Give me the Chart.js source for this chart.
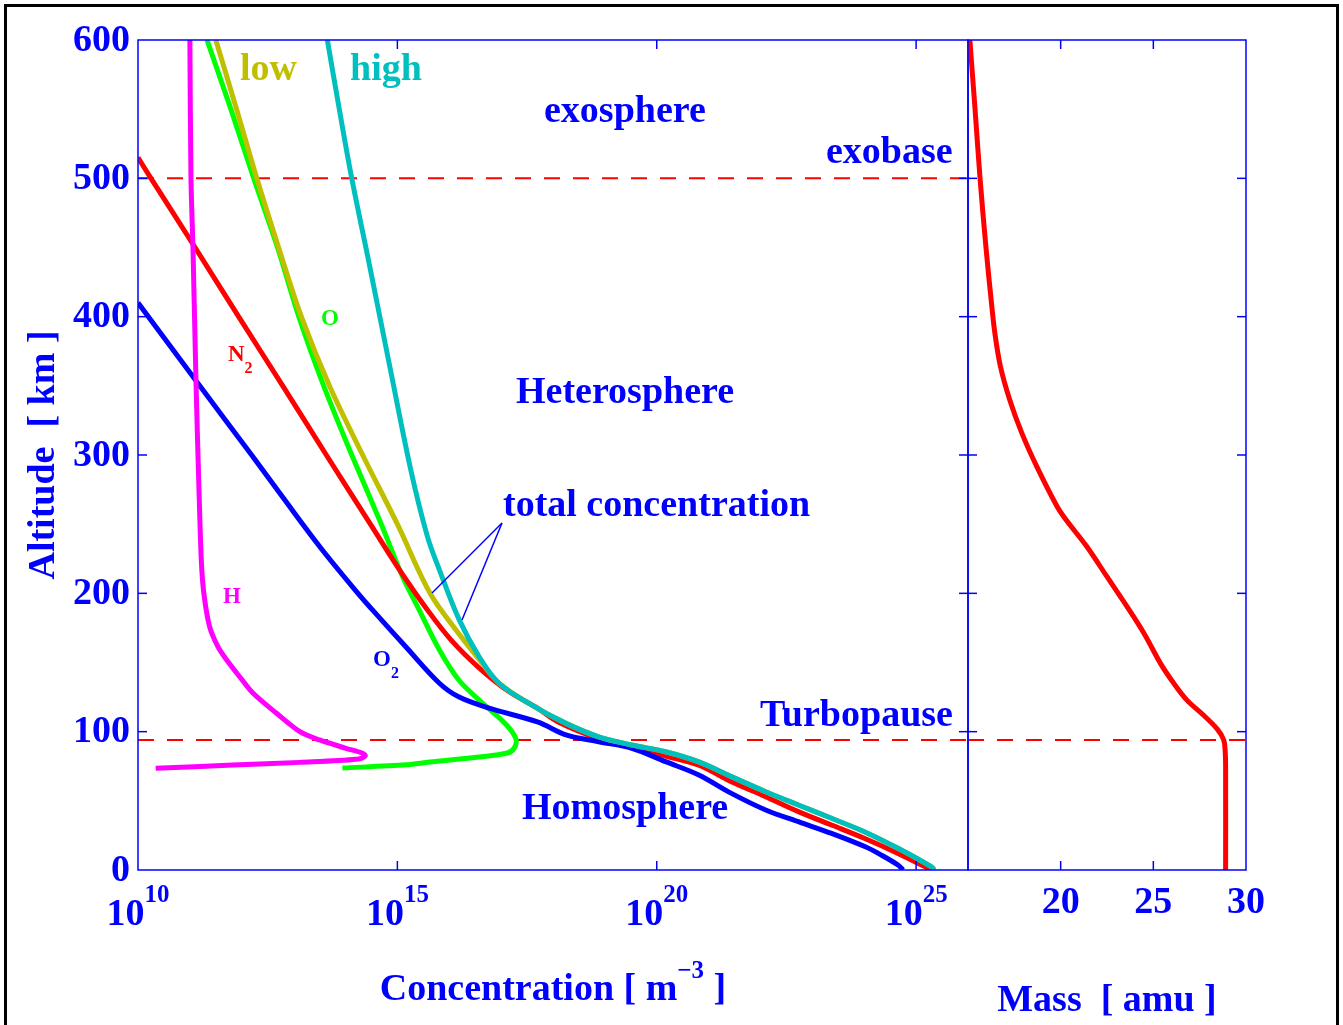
<!DOCTYPE html>
<html>
<head>
<meta charset="utf-8">
<script src="https://cdn.jsdelivr.net/npm/chart.js@4.4.0/dist/chart.umd.min.js"></script>
<style>
  body { margin: 0; background: #fff; }
  #wrap { position: relative; width: 1343px; height: 1025px; overflow: hidden; background: #fff; }
  #wrap canvas { position: absolute; left: 0; top: 0; }
  #frame { position: absolute; left: 4px; top: 4px; width: 1329px; height: 1040px; border: 3px solid #000; }
</style>
</head>
<body>
<div id="wrap">
  <div id="frame"></div>
  <canvas id="conc" width="1343" height="1025"></canvas>
  <canvas id="mass" width="1343" height="1025"></canvas>
</div>
<script>
// altitude [km] and number density [m^-3]
const altN2 = [515, 500, 450, 400, 350, 300, 250, 217, 188, 166, 146, 129, 117, 107, 95, 89, 82.4, 75.9, 63.8, 53, 42.2, 32.5, 22.9, 12, 1.2, 0];
const concN2 = [1.0e10, 1.78e10, 1.26e11, 8.71e11, 6.17e12, 4.27e13, 3.02e14, 1.1e15, 3.8e15, 1.1e16, 3.8e16, 1.41e17, 5.01e17, 1.26e18, 7.59e18, 3.31e19, 1.48e20, 6.31e20, 2.75e21, 1.26e22, 5.37e22, 2.34e23, 1.0e24, 4.47e24, 1.7e25, 1.91e25];

const altO2 = [410, 350, 300, 270, 233, 200, 188, 161, 135, 125, 117, 107, 97.6, 92.7, 88, 78.3, 68.7, 55.4, 43.4, 34.9, 26.5, 16.8, 10.8, 3.6, 0];
const concO2 = [1.0e10, 1.55e11, 1.55e12, 6.03e12, 3.31e13, 1.74e14, 3.31e14, 1.48e15, 6.46e15, 1.55e16, 5.89e16, 5.01e17, 1.78e18, 7.59e18, 3.31e19, 1.48e20, 6.46e20, 2.75e21, 1.26e22, 5.37e22, 2.34e23, 1.05e24, 2.14e24, 4.47e24, 5.62e24];

const altO = [600, 550, 500, 450, 400, 350, 300, 250, 212, 188, 159, 137, 121, 108, 101, 94, 88, 84.6, 81.7, 78, 76, 73.7];
const concO = [2.14e11, 6.17e11, 1.7e12, 4.9e12, 1.26e13, 3.8e13, 1.32e14, 4.9e14, 1.26e15, 2.63e15, 6.46e15, 1.55e16, 4.27e16, 1.05e17, 1.55e17, 1.95e17, 1.78e17, 1.32e17, 3.8e16, 4.17e15, 1.48e15, 8.71e13];

const altH = [600, 500, 448, 349, 282, 224, 200, 176, 161.5, 151.8, 139.7, 127.7, 113.3, 100, 94, 88, 84.4, 82.4, 80, 77.8, 75.9, 73.5];
const concH = [1.0e11, 1.05e11, 1.15e11, 1.32e11, 1.48e11, 1.66e11, 1.86e11, 2.4e11, 3.47e11, 5.13e11, 9.12e11, 1.66e12, 4.68e12, 1.32e13, 3.16e13, 1.02e14, 2.14e14, 2.4e14, 1.62e14, 1.32e13, 6.76e11, 2.19e10];

// total concentration, low and high solar activity
const altLow = [600, 550, 500, 450, 400, 350, 300, 250, 200, 173.5, 152, 135, 119, 106, 96.3, 90.4, 85.5, 78.3, 67.5, 56.6, 47, 37.4, 27.7, 15.7, 2.4, 0];
const concLow = [3.16e11, 7.94e11, 1.95e12, 5.13e12, 1.41e13, 4.9e13, 2.14e14, 1.0e15, 4.27e15, 1.35e16, 3.8e16, 9.12e16, 3.98e17, 1.78e18, 7.59e18, 3.31e19, 1.48e20, 6.31e20, 2.75e21, 1.26e22, 5.37e22, 2.34e23, 1.0e24, 4.47e24, 1.95e25, 2.24e25];

const altHigh = [600, 550, 500, 434, 361, 289, 241, 217, 181, 154, 135, 119, 106, 96.3, 90.4, 85.5, 78.3, 67.5, 56.6, 47, 37.4, 27.7, 15.7, 2.4, 0];
const concHigh = [4.47e13, 7.59e13, 1.32e14, 3.02e14, 7.41e14, 1.82e15, 3.8e15, 6.46e15, 1.55e16, 3.8e16, 9.12e16, 3.98e17, 1.78e18, 7.59e18, 3.31e19, 1.48e20, 6.31e20, 2.75e21, 1.26e22, 5.37e22, 2.34e23, 1.0e24, 4.47e24, 1.95e25, 2.24e25];

// mean molecular mass [amu]
const altMass = [600, 550, 500, 450, 412, 388, 364, 340, 316, 292, 263, 253, 234, 212, 190, 171, 149, 135, 123, 112, 102, 94, 85, 75, 0];
const meanMass = [15.1, 15.38, 15.65, 15.97, 16.25, 16.45, 16.75, 17.25, 17.9, 18.7, 19.8, 20.3, 21.4, 22.5, 23.6, 24.5, 25.4, 26.1, 26.8, 27.7, 28.44, 28.8, 28.88, 28.9, 28.9];

const exobaseAlt = 500;
const turbopauseAlt = 94;

// axes
const altTicks = [0, 100, 200, 300, 400, 500, 600];
const concTicks = [1e10, 1e15, 1e20, 1e25];
const concTickExp = ['10', '15', '20', '25'];
const massTicks = [20, 25, 30];

const BLUE = '#0000ff';
const SERIF = '"Liberation Serif", "Times New Roman", serif';
const font = size => 'bold ' + size + 'px ' + SERIF;

const pts = (xs, ys) => xs.map((v, i) => ({x: v, y: ys[i]}));

function curve(data, color, tension) {
    return {data: data, showLine: true, borderColor: color, backgroundColor: color,
        borderWidth: 5, tension: tension, pointRadius: 0, borderJoinStyle: 'round'};
}
function dashed(data) {
    return {data: data, showLine: true, borderColor: '#ff0000', borderWidth: 2,
        borderDash: [16, 13], tension: 0, pointRadius: 0};
}

// text made of pieces of different size (superscripts, subscripts)
function drawRich(ctx, parts, x, baseline, align) {
    let total = 0;
    parts.forEach(p => { ctx.font = font(p.size); p.w = ctx.measureText(p.t).width; total += p.w; });
    let x0 = align === 'left' ? x : x - total / 2;
    ctx.textAlign = 'left';
    ctx.textBaseline = 'alphabetic';
    parts.forEach(p => {
        ctx.font = font(p.size);
        ctx.fillText(p.t, x0, baseline + (p.dy || 0));
        x0 += p.w;
    });
}

function seg(ctx, x1, y1, x2, y2) {
    ctx.beginPath(); ctx.moveTo(x1, y1); ctx.lineTo(x2, y2); ctx.stroke();
}

function drawBox(chart, xTicks) {
    const {ctx, chartArea: a, scales: {x, y}} = chart;
    ctx.strokeStyle = BLUE;
    ctx.lineWidth = 1.5;
    ctx.strokeRect(a.left, a.top, a.right - a.left, a.bottom - a.top);
    altTicks.slice(1, -1).forEach(v => {
        const py = y.getPixelForValue(v);
        seg(ctx, a.left, py, a.left + 9, py);
        seg(ctx, a.right - 9, py, a.right, py);
    });
    xTicks.forEach(v => {
        const px = x.getPixelForValue(v);
        if (px <= a.left + 1 || px >= a.right - 1) return;
        seg(ctx, px, a.bottom, px, a.bottom - 9);
        seg(ctx, px, a.top, px, a.top + 9);
    });
}

const annotations = [
    {parts: [{t: 'low', size: 38}], color: '#bfbf00', x: 240, y: 80},
    {parts: [{t: 'high', size: 38}], color: '#00bfbf', x: 350, y: 80},
    {parts: [{t: 'exosphere', size: 38}], color: BLUE, x: 544, y: 122},
    {parts: [{t: 'exobase', size: 38}], color: BLUE, x: 826, y: 163},
    {parts: [{t: 'Heterosphere', size: 38}], color: BLUE, x: 516, y: 403},
    {parts: [{t: 'total concentration', size: 38}], color: BLUE, x: 503, y: 516},
    {parts: [{t: 'Turbopause', size: 38}], color: BLUE, x: 760, y: 726},
    {parts: [{t: 'Homosphere', size: 38}], color: BLUE, x: 522, y: 819},
    {parts: [{t: 'O', size: 23}], color: '#00ff00', x: 321, y: 325},
    {parts: [{t: 'N', size: 23}, {t: '2', size: 16, dy: 12}], color: '#ff0000', x: 228, y: 361},
    {parts: [{t: 'H', size: 23}], color: '#ff00ff', x: 223, y: 603},
    {parts: [{t: 'O', size: 23}, {t: '2', size: 16, dy: 12}], color: BLUE, x: 373, y: 666}
];

const leftDecor = {
    id: 'leftDecor',
    afterDraw(chart) {
        const {ctx, chartArea: a, scales: {x, y}} = chart;
        ctx.save();
        drawBox(chart, concTicks);
        ctx.fillStyle = BLUE;

        // altitude tick labels
        ctx.font = font(38);
        ctx.textAlign = 'right';
        ctx.textBaseline = 'middle';
        altTicks.forEach(v => ctx.fillText(String(v), a.left - 8, y.getPixelForValue(v) + 1));

        // concentration tick labels 10^n
        concTicks.forEach((v, i) => {
            drawRich(ctx, [{t: '10', size: 38}, {t: concTickExp[i], size: 25, dy: -23}],
                x.getPixelForValue(v), 925);
        });

        drawRich(ctx, [{t: 'Concentration [ m', size: 38}, {t: '\u22123', size: 25, dy: -22}, {t: ' ]', size: 38}],
            (a.left + a.right) / 2, 1000);

        ctx.save();
        ctx.translate(54, (a.top + a.bottom) / 2);
        ctx.rotate(-Math.PI / 2);
        ctx.font = font(38);
        ctx.textAlign = 'center';
        ctx.textBaseline = 'alphabetic';
        ctx.fillText('Altitude  [ km ]', 0, 0);
        ctx.restore();

        annotations.forEach(n => {
            ctx.fillStyle = n.color;
            drawRich(ctx, n.parts, n.x, n.y, 'left');
        });

        // pointers for "total concentration"
        ctx.strokeStyle = BLUE;
        ctx.lineWidth = 1.5;
        seg(ctx, 502, 523, 432, 593);
        seg(ctx, 502, 523, 462, 620);
        ctx.restore();
    }
};

const rightDecor = {
    id: 'rightDecor',
    afterDraw(chart) {
        const {ctx, chartArea: a, scales: {x}} = chart;
        ctx.save();
        drawBox(chart, massTicks);
        ctx.fillStyle = BLUE;
        ctx.font = font(38);
        ctx.textAlign = 'center';
        ctx.textBaseline = 'alphabetic';
        massTicks.forEach(v => ctx.fillText(String(v), x.getPixelForValue(v), 913));
        ctx.fillText('Mass  [ amu ]', (a.left + a.right) / 2, 1011);
        ctx.restore();
    }
};

const baseOptions = (padding, xScale) => ({
    responsive: false,
    animation: false,
    events: [],
    devicePixelRatio: 1,
    layout: {padding: padding},
    plugins: {legend: {display: false}, tooltip: {enabled: false}},
    scales: {
        x: xScale,
        y: {type: 'linear', min: 0, max: 600, display: false}
    }
});

new Chart(document.getElementById('conc'), {
    type: 'scatter',
    data: {
        datasets: [
            curve(pts(concHigh, altHigh), '#00bfbf', 0.35),
            curve(pts(concLow, altLow), '#bfbf00', 0.35),
            curve(pts(concH, altH), '#ff00ff', 0.3),
            curve(pts(concO2, altO2), '#0000ff', 0.35),
            curve(pts(concN2, altN2), '#ff0000', 0.35),
            curve(pts(concO, altO), '#00ff00', 0.3),
            dashed([{x: 1e10, y: exobaseAlt}, {x: 1e26, y: exobaseAlt}]),
            dashed([{x: 1e10, y: turbopauseAlt}, {x: 1e26, y: turbopauseAlt}])
        ]
    },
    options: baseOptions({left: 138, top: 40, right: 375, bottom: 155},
        {type: 'logarithmic', min: 1e10, max: 1e26, display: false}),
    plugins: [leftDecor]
});

new Chart(document.getElementById('mass'), {
    type: 'scatter',
    data: {
        datasets: [
            curve(pts(meanMass, altMass), '#ff0000', 0.35),
            dashed([{x: 15, y: turbopauseAlt}, {x: 30, y: turbopauseAlt}])
        ]
    },
    options: baseOptions({left: 968, top: 40, right: 97, bottom: 155},
        {type: 'linear', min: 15, max: 30, display: false}),
    plugins: [rightDecor]
});
</script>
</body>
</html>
